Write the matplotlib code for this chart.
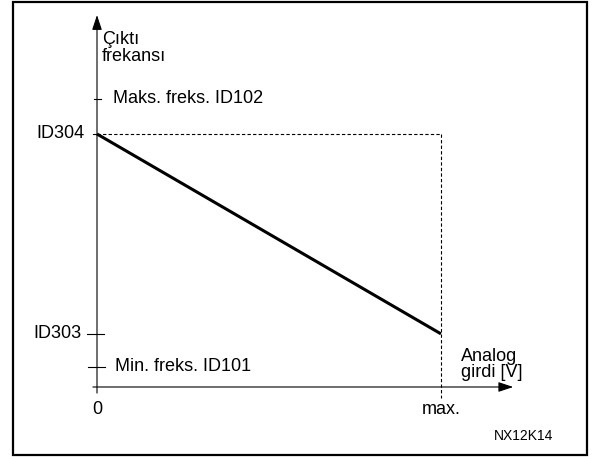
import matplotlib.pyplot as plt
from matplotlib.patches import Rectangle

plt.rcParams['font.family'] = ['Liberation Sans', 'DejaVu Sans']

# values in arbitrary units (ID304 = 100, x max = 100)
x_in = [0, 100]
y_out = [100, 21]
y_ticks_left = [100, 21]
y_labels_left = ['ID304', 'ID303']
y_ticks_right = [114, 8]
y_labels_right = ['Maks. freks. ID102', 'Min. freks. ID101']
x_ticks = [0, 100]
x_labels = ['0', 'max.']
x_axis_end = 121
y_axis_end = 147

fig = plt.figure(figsize=(5.93, 4.57), dpi=100)
ax = fig.add_axes([0, 0, 1, 1])
ax.set_xlim(-28.2, 144.2)
ax.set_ylim(-27.67, 152.96)
ax.axis('off')

# frame
fig.patches.append(Rectangle((13/593, 2/457), 574/593, 453/457, transform=fig.transFigure,
                             fill=False, lw=1.6, ec='black'))

# axes with arrows
ax.annotate('', xy=(x_axis_end, 0), xytext=(-1.2, 0),
            arrowprops=dict(arrowstyle='-|>,head_length=0.9,head_width=0.3', lw=0.8,
                            color='black', shrinkA=0, shrinkB=0))
ax.annotate('', xy=(0, y_axis_end), xytext=(0, -2.4),
            arrowprops=dict(arrowstyle='-|>,head_length=0.9,head_width=0.3', lw=0.8,
                            color='black', shrinkA=0, shrinkB=0))

# dashed guides
ax.plot([0, x_in[1]], [y_out[0], y_out[0]], ls=(0, (3, 2)), lw=0.8, color='black')
ax.plot([x_in[1], x_in[1]], [y_out[0], -4.2], ls=(0, (3, 2)), lw=0.8, color='black')

# the curve
ax.plot(x_in, y_out, color='black', lw=2.2, solid_capstyle='butt')

# ticks and labels
ax.plot([-1.2, 0], [y_ticks_left[0]] * 2, color='black', lw=0.8)
ax.plot([-2.9, 2.0], [y_ticks_left[1]] * 2, color='black', lw=0.8)
ax.text(-3.5, y_ticks_left[0], y_labels_left[0], ha='right', va='center', fontsize=13)
ax.text(-4.4, y_ticks_left[1], y_labels_left[1], ha='right', va='center', fontsize=13)
ax.plot([-0.9, 1.2], [y_ticks_right[0]] * 2, color='black', lw=0.8)
ax.plot([-2.6, 2.2], [y_ticks_right[1]] * 2, color='black', lw=0.8)
ax.text(4.7, y_ticks_right[0], y_labels_right[0], ha='left', va='center', fontsize=13)
ax.text(5.2, y_ticks_right[1], y_labels_right[1], ha='left', va='center', fontsize=13)
for v, lab in zip(x_ticks, x_labels):
    ax.text(v, -8.9, lab, ha='center', va='center', fontsize=13)

ax.text(1.4, 134.0, 'Çıktı\nfrekansı', ha='left', va='center', fontsize=13, linespacing=1.05)
ax.text(105.8, 9.0, 'Analog\ngirdi [V]', ha='left', va='center', fontsize=13, linespacing=0.9)
ax.text(124.0, -19.5, 'NX12K14', ha='center', va='center', fontsize=10)

fig.savefig('out.png', dpi=100)
